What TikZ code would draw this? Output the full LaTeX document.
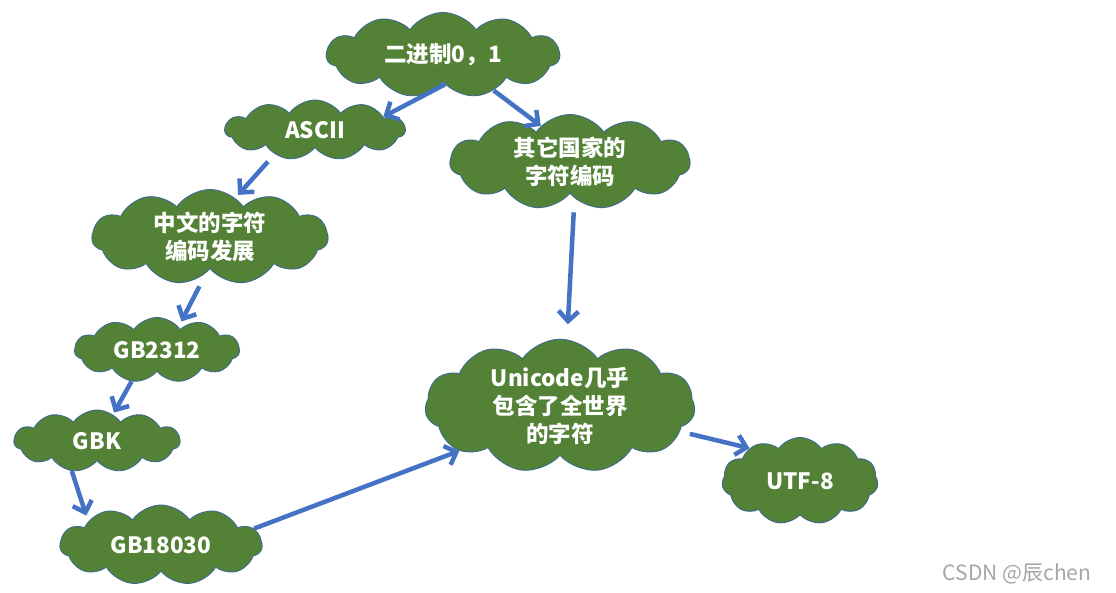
\documentclass[tikz,border=0pt]{standalone}
\usepackage{fontspec}
\setmainfont{Noto Sans CJK SC}
\usetikzlibrary{shapes.symbols,arrows.meta}
\definecolor{cloudgreen}{HTML}{538135}
\definecolor{cloudedge}{HTML}{3D6A8F}
\definecolor{arrowblue}{HTML}{4472C4}
\definecolor{wmgray}{HTML}{A6A6A6}
\tikzset{
  cloudbox/.style={cloud, cloud puffs=11, cloud puff arc=110, cloud ignores aspect,
    fill=cloudgreen, draw=cloudedge, line width=0.9pt, inner sep=0pt, align=center,
    text=white, font=\fontsize{22.5}{28}\selectfont\bfseries},
  arr/.style={draw=arrowblue, line width=4.5pt, -{Straight Barb[length=10pt,width=20pt,line width=4.5pt]}},
}
\begin{document}
\begin{tikzpicture}[x=1pt,y=-1pt]
\useasboundingbox (0,0) rectangle (1116,593);
\fill[white] (0,0) rectangle (1116,593);
\node[cloudbox, minimum width=233, minimum height=85] (bin) at (443,55) {二进制0，1};
\node[cloudbox, minimum width=180, minimum height=60] (ascii) at (315,130) {ASCII};
\node[cloudbox, minimum width=240, minimum height=95] (other) at (570,162) {其它国家的\\字符编码};
\node[cloudbox, minimum width=236, minimum height=95] (cn) at (210,237) {中文的字符\\编码发展};
\node[cloudbox, minimum width=165, minimum height=65] (gb2312) at (157,350) {GB2312};
\node[cloudbox, minimum width=166, minimum height=62] (gbk) at (97,441) {GBK};
\node[cloudbox, minimum width=202, minimum height=80] (gb18030) at (161,545) {GB18030};
\node[cloudbox, minimum width=270, minimum height=127] (uni) at (560,406) {Unicode几乎\\包含了全世界\\的字符};
\node[cloudbox, minimum width=156, minimum height=87] (utf) at (800,481) {UTF-8};
\node[text=wmgray, font=\fontsize{21}{24}\selectfont] (wm) at (1017,574) {CSDN @辰chen};
\draw[arr] (bin.274) -- (ascii.11);
\draw[arr] (bin.325) -- (other.129);
\draw[arr, shorten <=10pt, shorten >=4pt] (ascii.211) -- (cn.57);
\draw[arr, shorten <=15pt, shorten >=6pt] (cn.264) -- (gb2312.47);
\draw[arr, shorten >=2pt] (gb2312.231) -- (gbk.59);
\draw[arr, shorten >=6pt] (gbk.230) -- (gb18030.162);
\draw[arr] (gb18030.10) -- (uni.204);
\draw[arr, shorten <=14pt, shorten >=15pt] (other.277) -- (uni.84);
\draw[arr, shorten <=10pt] (uni.348) -- (utf.147);
\end{tikzpicture}
\end{document}
